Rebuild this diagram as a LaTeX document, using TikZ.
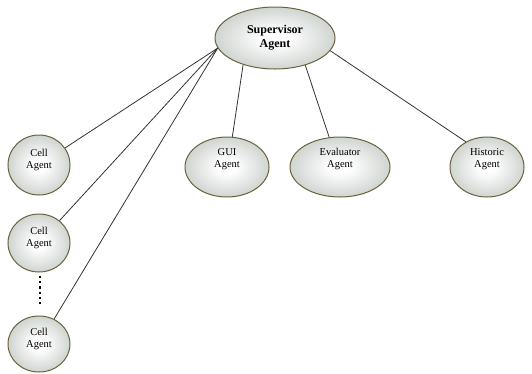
\documentclass[tikz,border=0pt]{standalone}
\usepackage{fontspec}
\setmainfont{Liberation Serif}
\usetikzlibrary{shapes.geometric}

% soft radial fill: white core fading to grey-green at the rim
\pgfdeclareradialshading{agentshade}{\pgfpoint{0bp}{0bp}}{%
  rgb(0bp)=(1,1,1);
  rgb(6bp)=(0.99,0.99,0.99);
  rgb(44bp)=(0.64,0.68,0.65);
  rgb(50bp)=(0.62,0.66,0.63)}
\definecolor{rimcol}{HTML}{66643C}
\definecolor{linkcol}{HTML}{333333}

\begin{document}
\begin{tikzpicture}[x=1pt,y=-1pt,
  agent/.style={ellipse, draw=rimcol, line width=1pt, shading=agentshade,
    inner sep=0pt},
  tag/.style={align=center, inner sep=0pt, yshift=#1,
    font=\fontsize{10.5}{12.5}\selectfont},
  bosstag/.style={align=center, inner sep=0pt,
    font=\fontsize{12}{14}\selectfont\bfseries},
  link/.style={draw=linkcol, line width=0.8pt}]
  \useasboundingbox (0,0) rectangle (532,373);

  % agents
  \node[agent, minimum width=120pt, minimum height=62pt,
    label={[bosstag]center:Supervisor\\Agent}] (sup) at (275,38) {};
  \node[agent, minimum width=62pt, minimum height=60pt,
    label={[tag=5pt]center:Cell\\Agent}] (cell1) at (39,165) {};
  \node[agent, minimum width=62pt, minimum height=58pt,
    label={[tag=5pt]center:Cell\\Agent}] (cell2) at (39,243) {};
  \node[agent, minimum width=62pt, minimum height=56pt,
    label={[tag=5pt]center:Cell\\Agent}] (cell3) at (39,344) {};
  \node[agent, minimum width=84pt, minimum height=60pt,
    label={[tag=8pt]center:GUI\\Agent}] (gui) at (227,167) {};
  \node[agent, minimum width=100pt, minimum height=60pt,
    label={[tag=8pt]center:Evaluator\\Agent}] (eval) at (340,167) {};
  \node[agent, minimum width=74pt, minimum height=60pt,
    label={[tag=8pt]center:Historic\\Agent}] (hist) at (487,167) {};

  % ellipsis between the cell agents
  \foreach \k [count=\i] in {0,...,5}
    \node[fill=black, minimum size=2.2pt, inner sep=0pt] (dot\i) at (40,277+5.2*\k) {};

  % links from the supervisor
  \draw[link] (sup.190) -- (cell1);
  \draw[link] (sup.190) -- (cell2);
  \draw[link] (sup.190) -- (cell3);
  \draw[link] (sup.220) -- (gui.80);
  \draw[link] (sup.318) -- (eval.110);
  \draw[link] (sup.347) -- (hist.130);
\end{tikzpicture}
\end{document}
